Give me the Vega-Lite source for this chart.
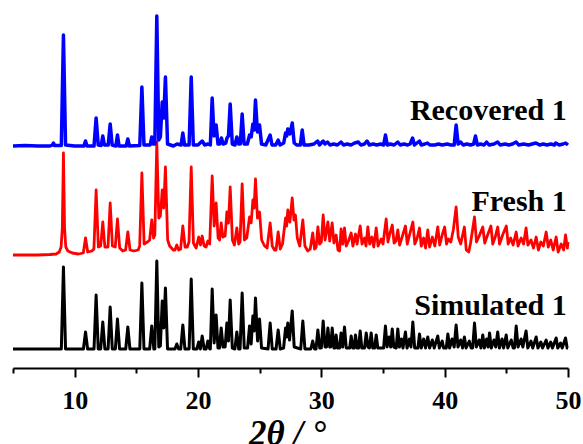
{
  "$schema": "https://vega.github.io/schema/vega-lite/v6.json",
  "autosize": {"type": "none"},
  "width": 555,
  "height": 368,
  "padding": {"left": 13, "top": 0, "right": 15, "bottom": 76},
  "background": "white",
  "config": {"view": {"stroke": null}},
  "datasets": {
    "simulated": [
      {"x":5,"y":19},{"x":8.92,"y":19},{"x":9.09,"y":101},{"x":9.26,"y":19},
      {"x":10.71,"y":19},{"x":10.88,"y":36},{"x":11.05,"y":19},
      {"x":11.57,"y":19},{"x":11.74,"y":73},{"x":11.91,"y":19},
      {"x":12.11,"y":19},{"x":12.28,"y":46},{"x":12.45,"y":19},
      {"x":12.71,"y":19},{"x":12.88,"y":61},{"x":13.05,"y":19},
      {"x":13.3,"y":19},{"x":13.47,"y":49},{"x":13.64,"y":19},
      {"x":14.14,"y":19},{"x":14.31,"y":41},{"x":14.48,"y":19},
      {"x":15.28,"y":19},{"x":15.45,"y":85},{"x":15.62,"y":19},
      {"x":16.08,"y":19},{"x":16.25,"y":42},{"x":16.42,"y":19},
      {"x":16.5,"y":19},{"x":16.66,"y":107},{"x":16.82,"y":21},
      {"x":16.95,"y":22},{"x":17.1,"y":67},{"x":17.22,"y":40},{"x":17.36,"y":80},{"x":17.53,"y":19},
      {"x":18.13,"y":19},{"x":18.28,"y":24},{"x":18.43,"y":19},
      {"x":18.6,"y":19},{"x":18.77,"y":43},{"x":18.94,"y":19},
      {"x":19.28,"y":19},{"x":19.45,"y":89},{"x":19.62,"y":19},
      {"x":19.91,"y":19},{"x":20.06,"y":26},{"x":20.19,"y":19},{"x":20.34,"y":32},{"x":20.5,"y":19},
      {"x":20.66,"y":19},{"x":20.8,"y":27},{"x":20.95,"y":19},
      {"x":21.0,"y":19},{"x":21.15,"y":79},{"x":21.31,"y":25},{"x":21.47,"y":53},{"x":21.62,"y":20},
      {"x":21.74,"y":20},{"x":21.88,"y":40},{"x":22.03,"y":21},
      {"x":22.2,"y":21},{"x":22.34,"y":45},{"x":22.47,"y":27},{"x":22.61,"y":68},{"x":22.78,"y":20},
      {"x":22.99,"y":19},{"x":23.15,"y":36},{"x":23.3,"y":19},
      {"x":23.41,"y":19},{"x":23.58,"y":75},{"x":23.75,"y":20},
      {"x":24.02,"y":20},{"x":24.18,"y":42},{"x":24.31,"y":24},{"x":24.45,"y":52},{"x":24.55,"y":37},{"x":24.66,"y":70},{"x":24.83,"y":27},{"x":24.99,"y":49},{"x":25.15,"y":20},
      {"x":25.68,"y":19},{"x":25.85,"y":45},{"x":26.02,"y":19},
      {"x":26.33,"y":19},{"x":26.5,"y":38},{"x":26.67,"y":19},
      {"x":26.94,"y":20},{"x":27.1,"y":40},{"x":27.19,"y":31},{"x":27.28,"y":45},{"x":27.42,"y":28},{"x":27.64,"y":57},{"x":27.8,"y":21},
      {"x":28.33,"y":19},{"x":28.5,"y":47},{"x":28.67,"y":19},
      {"x":29.15,"y":19},{"x":29.3,"y":27},{"x":29.45,"y":19},
      {"x":29.57,"y":19},{"x":29.72,"y":38},{"x":29.87,"y":20},
      {"x":30.0,"y":20},{"x":30.15,"y":47},{"x":30.3,"y":21},{"x":30.42,"y":21},{"x":30.53,"y":40},{"x":30.68,"y":21},{"x":30.76,"y":21},{"x":30.88,"y":40},{"x":31.02,"y":20},{"x":31.1,"y":20},{"x":31.2,"y":33},{"x":31.32,"y":20},
      {"x":31.48,"y":20},{"x":31.6,"y":35},{"x":31.73,"y":21},{"x":31.88,"y":41},{"x":32.02,"y":20},
      {"x":32.3,"y":20},{"x":32.42,"y":32},{"x":32.55,"y":20},{"x":32.66,"y":20},{"x":32.77,"y":33},{"x":32.9,"y":20},{"x":33.02,"y":20},{"x":33.15,"y":37},{"x":33.28,"y":20},
      {"x":33.5,"y":20},{"x":33.64,"y":35},{"x":33.78,"y":21},{"x":33.9,"y":20},{"x":34.04,"y":35},{"x":34.17,"y":20},{"x":34.32,"y":20},{"x":34.45,"y":33},{"x":34.58,"y":20},
      {"x":35.05,"y":20},{"x":35.2,"y":42},{"x":35.33,"y":21},{"x":35.5,"y":31},{"x":35.62,"y":21},{"x":35.75,"y":39},{"x":35.88,"y":21},
      {"x":36.07,"y":20},{"x":36.2,"y":39},{"x":36.33,"y":21},{"x":36.5,"y":29},{"x":36.62,"y":20},{"x":36.82,"y":36},{"x":36.95,"y":20},{"x":37.15,"y":29},{"x":37.27,"y":21},{"x":37.42,"y":46},{"x":37.57,"y":20},
      {"x":37.83,"y":20},{"x":37.96,"y":34},{"x":38.1,"y":20},{"x":38.3,"y":29},{"x":38.45,"y":20},{"x":38.63,"y":31},{"x":38.78,"y":20},{"x":39.0,"y":28},{"x":39.15,"y":20},{"x":39.44,"y":32},{"x":39.57,"y":20},{"x":39.8,"y":27},{"x":39.92,"y":20},
      {"x":40.13,"y":20},{"x":40.26,"y":34},{"x":40.4,"y":20},{"x":40.6,"y":29},{"x":40.77,"y":21},{"x":40.93,"y":43},{"x":41.08,"y":21},{"x":41.3,"y":28},{"x":41.45,"y":20},{"x":41.6,"y":31},{"x":41.74,"y":20},{"x":42.0,"y":27},{"x":42.14,"y":20},
      {"x":42.27,"y":20},{"x":42.42,"y":45},{"x":42.57,"y":21},{"x":42.8,"y":28},{"x":42.94,"y":20},{"x":43.09,"y":33},{"x":43.22,"y":20},{"x":43.4,"y":29},{"x":43.52,"y":21},{"x":43.64,"y":35},{"x":43.78,"y":20},{"x":44.0,"y":28},{"x":44.14,"y":21},{"x":44.3,"y":36},{"x":44.44,"y":20},{"x":44.65,"y":29},{"x":44.78,"y":20},{"x":44.99,"y":33},{"x":45.12,"y":20},{"x":45.4,"y":28},{"x":45.55,"y":20},
      {"x":45.66,"y":20},{"x":45.8,"y":42},{"x":45.95,"y":21},{"x":46.2,"y":29},{"x":46.34,"y":21},{"x":46.6,"y":37},{"x":46.74,"y":20},{"x":47.0,"y":27},{"x":47.14,"y":20},{"x":47.42,"y":31},{"x":47.56,"y":20},{"x":47.8,"y":26},{"x":47.94,"y":20},{"x":48.23,"y":28},{"x":48.37,"y":20},{"x":48.6,"y":26},{"x":48.74,"y":20},{"x":49.04,"y":30},{"x":49.17,"y":20},{"x":49.4,"y":25},{"x":49.53,"y":20},{"x":49.8,"y":30},{"x":49.93,"y":20},{"x":50,"y":20}
    ],
    "fresh": [
      {"x":5,"y":113},{"x":6,"y":113},{"x":7,"y":113},{"x":8,"y":113.5},{"x":8.5,"y":114},{"x":8.75,"y":116},{"x":8.9,"y":121},{"x":9.0,"y":140},{"x":9.09,"y":215},{"x":9.18,"y":140},{"x":9.28,"y":121},{"x":9.45,"y":117},{"x":9.8,"y":115},{"x":10.3,"y":114},
      {"x":10.7,"y":115},{"x":10.88,"y":130},{"x":11.06,"y":116},
      {"x":11.4,"y":117},{"x":11.56,"y":119},{"x":11.74,"y":178},{"x":11.92,"y":121},{"x":12.11,"y":122},{"x":12.28,"y":146},{"x":12.45,"y":121},{"x":12.7,"y":121},{"x":12.88,"y":165},{"x":13.06,"y":122},{"x":13.29,"y":121},{"x":13.47,"y":149},{"x":13.65,"y":120},
      {"x":13.9,"y":117},{"x":14.13,"y":118},{"x":14.31,"y":136},{"x":14.49,"y":118},{"x":14.8,"y":117},{"x":15.15,"y":118},{"x":15.27,"y":122},{"x":15.45,"y":195},{"x":15.63,"y":124},
      {"x":15.9,"y":126},{"x":16.08,"y":128},{"x":16.25,"y":148},{"x":16.4,"y":130},{"x":16.5,"y":133},{"x":16.66,"y":226},{"x":16.82,"y":150},{"x":16.95,"y":152},{"x":17.1,"y":178},{"x":17.22,"y":160},{"x":17.36,"y":201},{"x":17.54,"y":128},{"x":17.7,"y":122},
      {"x":18.0,"y":118},{"x":18.13,"y":118},{"x":18.28,"y":123},{"x":18.43,"y":118},{"x":18.59,"y":119},{"x":18.77,"y":142},{"x":18.95,"y":121},{"x":19.13,"y":121},{"x":19.27,"y":126},{"x":19.45,"y":201},{"x":19.63,"y":125},
      {"x":19.85,"y":120},{"x":20.06,"y":131},{"x":20.2,"y":123},{"x":20.34,"y":132},{"x":20.5,"y":122},{"x":20.65,"y":121},{"x":20.8,"y":127},{"x":20.95,"y":124},{"x":21.15,"y":192},{"x":21.31,"y":142},{"x":21.47,"y":165},{"x":21.63,"y":130},{"x":21.75,"y":128},{"x":21.88,"y":145},{"x":22.02,"y":131},
      {"x":22.2,"y":132},{"x":22.34,"y":156},{"x":22.47,"y":145},{"x":22.61,"y":181},{"x":22.79,"y":128},{"x":22.95,"y":123},{"x":23.15,"y":140},{"x":23.3,"y":124},{"x":23.41,"y":126},{"x":23.58,"y":184},{"x":23.76,"y":128},
      {"x":23.95,"y":130},{"x":24.18,"y":151},{"x":24.31,"y":145},{"x":24.45,"y":168},{"x":24.55,"y":160},{"x":24.66,"y":189},{"x":24.82,"y":150},{"x":24.99,"y":156},{"x":25.16,"y":128},{"x":25.4,"y":122},{"x":25.6,"y":120},{"x":25.85,"y":145},{"x":26.02,"y":122},{"x":26.2,"y":118},{"x":26.33,"y":118},{"x":26.5,"y":136},{"x":26.67,"y":119},{"x":26.85,"y":124},
      {"x":27.1,"y":150},{"x":27.19,"y":142},{"x":27.28,"y":158},{"x":27.45,"y":146},{"x":27.64,"y":170},{"x":27.78,"y":148},{"x":27.9,"y":153},{"x":28.05,"y":130},{"x":28.25,"y":122},{"x":28.5,"y":148},{"x":28.67,"y":122},{"x":28.9,"y":117},{"x":29.1,"y":119},{"x":29.3,"y":135},{"x":29.45,"y":119},{"x":29.58,"y":121},{"x":29.72,"y":141},{"x":29.86,"y":124},
      {"x":30.0,"y":126},{"x":30.15,"y":153},{"x":30.3,"y":128},{"x":30.53,"y":146},{"x":30.68,"y":127},{"x":30.88,"y":145},{"x":31.02,"y":125},{"x":31.2,"y":133},{"x":31.35,"y":118},{"x":31.48,"y":117},{"x":31.6,"y":139},{"x":31.74,"y":124},{"x":31.88,"y":140},{"x":32.02,"y":122},{"x":32.2,"y":127},{"x":32.42,"y":135},{"x":32.56,"y":122},{"x":32.77,"y":134},{"x":32.9,"y":124},{"x":33.15,"y":142},{"x":33.3,"y":124},{"x":33.5,"y":130},{"x":33.62,"y":122},{"x":33.77,"y":141},{"x":33.92,"y":124},{"x":34.1,"y":131},{"x":34.25,"y":121},{"x":34.45,"y":140},{"x":34.6,"y":122},{"x":34.85,"y":129},{"x":35.0,"y":124},{"x":35.26,"y":149},{"x":35.4,"y":126},{"x":35.55,"y":134},{"x":35.75,"y":143},{"x":35.9,"y":125},{"x":36.05,"y":127},{"x":36.2,"y":138},{"x":36.35,"y":123},{"x":36.55,"y":131},{"x":36.82,"y":142},{"x":36.97,"y":124},{"x":37.15,"y":133},{"x":37.42,"y":146},{"x":37.58,"y":124},{"x":37.75,"y":129},{"x":37.96,"y":140},{"x":38.1,"y":122},{"x":38.3,"y":130},{"x":38.45,"y":120},{"x":38.63,"y":138},{"x":38.78,"y":121},{"x":39.0,"y":131},{"x":39.2,"y":122},{"x":39.44,"y":141},{"x":39.6,"y":123},{"x":39.8,"y":133},{"x":40.0,"y":141},{"x":40.15,"y":124},{"x":40.3,"y":129},{"x":40.5,"y":126},{"x":40.7,"y":138},{"x":40.93,"y":161},{"x":41.1,"y":131},{"x":41.3,"y":124},{"x":41.6,"y":141},{"x":41.75,"y":118},{"x":41.95,"y":116},{"x":42.1,"y":125},{"x":42.42,"y":151},{"x":42.58,"y":126},{"x":42.8,"y":132},{"x":43.09,"y":141},{"x":43.25,"y":125},{"x":43.45,"y":132},{"x":43.75,"y":142},{"x":43.9,"y":124},{"x":44.1,"y":131},{"x":44.3,"y":141},{"x":44.45,"y":124},{"x":44.7,"y":133},{"x":45.0,"y":142},{"x":45.15,"y":124},{"x":45.35,"y":130},{"x":45.55,"y":123},{"x":45.8,"y":136},{"x":45.95,"y":122},{"x":46.2,"y":130},{"x":46.4,"y":124},{"x":46.6,"y":140},{"x":46.75,"y":123},{"x":47.0,"y":128},{"x":47.2,"y":120},{"x":47.42,"y":131},{"x":47.6,"y":118},{"x":47.8,"y":126},{"x":48.0,"y":122},{"x":48.23,"y":136},{"x":48.4,"y":121},{"x":48.6,"y":128},{"x":48.8,"y":118},{"x":49.04,"y":131},{"x":49.2,"y":116},{"x":49.45,"y":124},{"x":49.65,"y":118},{"x":49.8,"y":133},{"x":49.95,"y":120},{"x":50,"y":126}
    ],
    "recovered": [
      {"x":5,"y":222},{"x":6,"y":222.5},{"x":7,"y":222},{"x":8,"y":222},{"x":8.2,"y":223},{"x":8.28,"y":225},{"x":8.36,"y":222.5},{"x":8.92,"y":222.5},{"x":9.09,"y":333},{"x":9.26,"y":223},{"x":10,"y":222},{"x":10.75,"y":222},{"x":10.88,"y":227},{"x":11.0,"y":222},{"x":11.57,"y":222},{"x":11.74,"y":250},{"x":11.91,"y":223},{"x":12.15,"y":222.5},{"x":12.28,"y":232},{"x":12.41,"y":223},{"x":12.72,"y":223},{"x":12.88,"y":244},{"x":13.04,"y":223},{"x":13.34,"y":222},{"x":13.47,"y":233},{"x":13.6,"y":222},{"x":14.18,"y":222},{"x":14.31,"y":229},{"x":14.44,"y":222},{"x":15.28,"y":222.5},{"x":15.45,"y":281},{"x":15.62,"y":223},{"x":16.12,"y":223},{"x":16.25,"y":231},{"x":16.38,"y":224},{"x":16.5,"y":224},{"x":16.66,"y":352},{"x":16.82,"y":228},{"x":16.95,"y":231},{"x":17.1,"y":266},{"x":17.22,"y":250},{"x":17.36,"y":291},{"x":17.53,"y":224},{"x":18.0,"y":222},{"x":18.3,"y":224},{"x":18.63,"y":223},{"x":18.77,"y":235},{"x":18.91,"y":223},{"x":19.28,"y":223},{"x":19.45,"y":291},{"x":19.62,"y":223},{"x":20.0,"y":223},{"x":20.34,"y":227},{"x":20.55,"y":223},{"x":20.8,"y":224},{"x":21.0,"y":223},{"x":21.15,"y":270},{"x":21.3,"y":232},{"x":21.47,"y":243},{"x":21.62,"y":224},{"x":21.76,"y":224},{"x":21.9,"y":230},{"x":22.04,"y":224},{"x":22.25,"y":225},{"x":22.35,"y":230},{"x":22.47,"y":232},{"x":22.61,"y":264},{"x":22.78,"y":224},{"x":23.0,"y":223},{"x":23.15,"y":231},{"x":23.3,"y":224},{"x":23.43,"y":224},{"x":23.58,"y":254},{"x":23.74,"y":224},{"x":24.0,"y":224},{"x":24.18,"y":233},{"x":24.31,"y":231},{"x":24.45,"y":244},{"x":24.55,"y":238},{"x":24.66,"y":268},{"x":24.82,"y":236},{"x":24.99,"y":243},{"x":25.15,"y":224},{"x":25.5,"y":223},{"x":25.85,"y":233},{"x":26.0,"y":223},{"x":26.3,"y":223},{"x":26.5,"y":228},{"x":26.65,"y":223},{"x":26.95,"y":225},{"x":27.1,"y":235},{"x":27.19,"y":232},{"x":27.28,"y":239},{"x":27.45,"y":234},{"x":27.64,"y":245},{"x":27.8,"y":225},{"x":28.0,"y":223},{"x":28.3,"y":223},{"x":28.45,"y":238},{"x":28.6,"y":223},{"x":29.0,"y":223},{"x":29.4,"y":224},{"x":29.7,"y":227},{"x":29.85,"y":223},{"x":30.15,"y":227},{"x":30.3,"y":224},{"x":30.5,"y":226},{"x":30.7,"y":223},{"x":31.0,"y":224},{"x":31.3,"y":223},{"x":31.6,"y":226},{"x":31.8,"y":223},{"x":32.1,"y":224},{"x":32.4,"y":223},{"x":32.7,"y":225},{"x":33.0,"y":226},{"x":33.2,"y":223},{"x":33.5,"y":224},{"x":33.7,"y":227},{"x":33.9,"y":223},{"x":34.2,"y":224},{"x":34.5,"y":223},{"x":34.8,"y":224},{"x":35.05,"y":223},{"x":35.2,"y":233},{"x":35.35,"y":223},{"x":35.6,"y":224},{"x":35.9,"y":223},{"x":36.2,"y":226},{"x":36.4,"y":223},{"x":36.7,"y":224},{"x":37.0,"y":223},{"x":37.2,"y":224},{"x":37.4,"y":230},{"x":37.55,"y":223},{"x":37.96,"y":227},{"x":38.1,"y":223},{"x":38.4,"y":224},{"x":38.6,"y":225},{"x":38.8,"y":223},{"x":39.2,"y":223},{"x":39.5,"y":224},{"x":39.8,"y":223},{"x":40.2,"y":224},{"x":40.5,"y":223},{"x":40.77,"y":223},{"x":40.93,"y":243},{"x":41.09,"y":224},{"x":41.3,"y":226},{"x":41.5,"y":223},{"x":41.8,"y":224},{"x":42.1,"y":223},{"x":42.35,"y":224},{"x":42.5,"y":232},{"x":42.65,"y":223},{"x":42.9,"y":224},{"x":43.2,"y":223},{"x":43.4,"y":226},{"x":43.6,"y":223},{"x":44.0,"y":224},{"x":44.3,"y":226},{"x":44.5,"y":223},{"x":44.9,"y":224},{"x":45.2,"y":223},{"x":45.5,"y":224},{"x":45.8,"y":226},{"x":46.0,"y":223},{"x":46.4,"y":224},{"x":46.8,"y":223},{"x":47.1,"y":224},{"x":47.4,"y":225},{"x":47.7,"y":223},{"x":48.0,"y":224},{"x":48.3,"y":223},{"x":48.6,"y":224},{"x":48.9,"y":223},{"x":49.0,"y":225},{"x":49.3,"y":223},{"x":49.6,"y":224},{"x":49.8,"y":225},{"x":50,"y":223}
    ],
    "labels": [
      {"label":"Recovered 1","x":49.9,"y":248},
      {"label":"Fresh 1","x":49.9,"y":157},
      {"label":"Simulated 1","x":49.9,"y":53}
    ]
  },
  "encoding": {
    "x": {
      "field": "x", "type": "quantitative",
      "scale": {"domain": [5, 50], "nice": false, "zero": false},
      "axis": {
        "values": [5,10,15,20,25,30,35,40,45,50],
        "labelExpr": "datum.value % 10 === 0 ? datum.label : ''",
        "grid": false,
        "domainColor": "black", "domainWidth": 2,
        "tickColor": "black", "tickWidth": 2,
        "tickSize": {"condition": {"test": "datum.value % 10 === 0", "value": 9}, "value": 5},
        "labelFont": "Liberation Serif", "labelFontWeight": "bold", "labelFontSize": 26, "labelColor": "black",
        "labelPadding": 10,
        "labelFlush": false,
        "title": "2θ / °",
        "titleFont": "Liberation Serif", "titleFontWeight": "bold", "titleFontStyle": "italic", "titleFontSize": 35, "titleColor": "black",
        "titleBaseline": "top", "titleY": 48, "titleX": 274
      }
    },
    "y": {
      "field": "y", "type": "quantitative",
      "scale": {"domain": [0, 368], "nice": false, "zero": false},
      "axis": null
    }
  },
  "layer": [
    {"data": {"name": "simulated"}, "mark": {"type": "line", "color": "black", "strokeWidth": 3, "strokeJoin": "round"}},
    {"data": {"name": "fresh"}, "mark": {"type": "line", "color": "#FF0000", "strokeWidth": 2.8, "strokeJoin": "round"}},
    {"data": {"name": "recovered"}, "mark": {"type": "line", "color": "#0000FF", "strokeWidth": 3.5, "strokeJoin": "round"}},
    {"data": {"name": "labels"}, "mark": {"type": "text", "align": "right", "baseline": "alphabetic", "font": "Liberation Serif", "fontWeight": "bold", "fontSize": 30, "color": "black"},
     "encoding": {"text": {"field": "label"}}}
  ]
}
